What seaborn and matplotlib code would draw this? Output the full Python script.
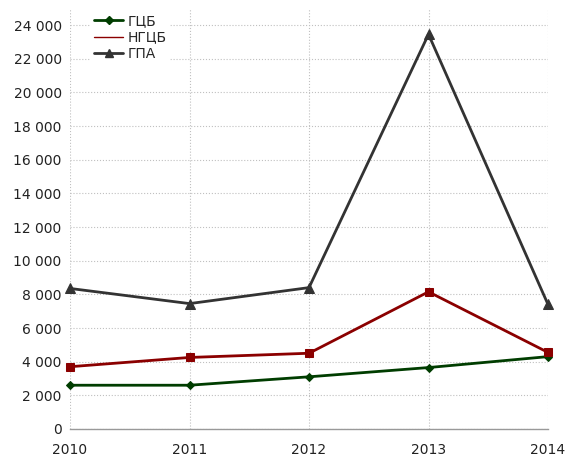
import matplotlib
matplotlib.use('Agg')
import matplotlib.pyplot as plt
from matplotlib.ticker import FuncFormatter
from matplotlib.lines import Line2D
import seaborn as sns
import pandas as pd

years = [2010, 2011, 2012, 2013, 2014]
gcb = [2600, 2600, 3100, 3650, 4300]
ngcb = [3700, 4250, 4500, 8150, 4550]
gpa = [8350, 7450, 8400, 23450, 7400]

sns.set_style('white')
plt.rcParams['font.family'] = ['DejaVu Sans']

fig = plt.figure(figsize=(5.66, 4.57), dpi=100)
ax = fig.add_axes([0.1237, 0.0613, 0.8445, 0.9207])

df = pd.DataFrame({'year': years * 3,
                   'value': gcb + ngcb + gpa,
                   'series': ['ГЦБ'] * 5 + ['НГЦБ'] * 5 + ['ГПА'] * 5})

colors = {'ГЦБ': '#003d00', 'НГЦБ': '#8b0000', 'ГПА': '#333333'}
markers = {'ГЦБ': 'D', 'НГЦБ': 's', 'ГПА': '^'}
msize = {'ГЦБ': 4.5, 'НГЦБ': 5.5, 'ГПА': 6.5}

for name in ['ГЦБ', 'НГЦБ', 'ГПА']:
    d = df[df['series'] == name]
    sns.lineplot(data=d, x='year', y='value', ax=ax, color=colors[name],
                 marker=markers[name], markersize=msize[name],
                 markeredgecolor=colors[name], linewidth=2, clip_on=False,
                 zorder=3)

ax.set_xlim(2010, 2014)
ax.set_ylim(0, 25000)
ax.set_xticks(years)
ax.set_yticks([y for y in range(0, 25000, 2000)])
ax.yaxis.set_major_formatter(FuncFormatter(lambda v, p: f'{int(v):,}'.replace(',', ' ')))
ax.set_xlabel('')
ax.set_ylabel('')
ax.tick_params(axis='y', labelsize=10, length=0, pad=6, colors='#222222')
ax.tick_params(axis='x', labelsize=10, length=0, pad=10, colors='#222222')
ax.grid(True, color='#c0c0c0', linestyle=':', linewidth=0.8)
for s in ['top', 'right', 'left']:
    ax.spines[s].set_visible(False)
ax.spines['bottom'].set_color('#999999')
ax.spines['bottom'].set_linewidth(1)

handles = [Line2D([], [], color=colors['ГЦБ'], marker='D', markersize=4.5, linewidth=2),
           Line2D([], [], color=colors['НГЦБ'], linewidth=1),
           Line2D([], [], color=colors['ГПА'], marker='^', markersize=6, linewidth=2)]
leg = ax.legend(handles, ['ГЦБ', 'НГЦБ', 'ГПА'], loc='upper left',
                bbox_to_anchor=(0.03, 1.01), frameon=True, fontsize=10,
                handlelength=2.1, handletextpad=0.3, labelspacing=0.2,
                borderpad=0.2, facecolor='white', edgecolor='white',
                framealpha=1)
leg.set_zorder(5)

fig.savefig('out.png', dpi=100)
